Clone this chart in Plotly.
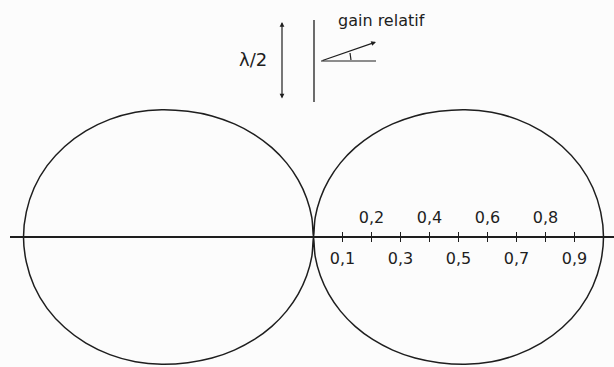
import numpy as np
import plotly.graph_objects as go

# relative gain of the half-wave dipole, read every 5 degrees from the dipole axis
ANGLE_DEG = [0, 5, 10, 15, 20, 25, 30, 35, 40, 45, 50, 55, 60, 65, 70, 75, 80, 85, 90]
GAIN = [0.0, 0.068, 0.136, 0.204, 0.272, 0.340, 0.408, 0.476, 0.545, 0.613,
        0.683, 0.750, 0.811, 0.866, 0.913, 0.951, 0.978, 0.994, 1.0]

TICK_VALUES = [0.1, 0.2, 0.3, 0.4, 0.5, 0.6, 0.7, 0.8, 0.9]
LABELS_BELOW = ['0,1', '', '0,3', '', '0,5', '', '0,7', '', '0,9']
LABELS_ABOVE = ['', '0,2', '', '0,4', '', '0,6', '', '0,8', '']

W, H = 614, 367
INK = '#1e1e1e'
FONT = 'DejaVu Sans, sans-serif'

# pattern is symmetric: mirror the quarter into the full figure-of-eight
half = np.array(ANGLE_DEG, dtype=float)
g = np.array(GAIN)
th_right = np.concatenate([half, 180 - half[::-1][1:]])
g_right = np.concatenate([g, g[::-1][1:]])
theta = np.radians(np.concatenate([th_right, 180 + th_right[1:]]))
gain = np.concatenate([g_right, g_right[1:]])

fig = go.Figure()
fig.add_trace(go.Scatter(
    x=gain * np.sin(theta),
    y=gain * np.cos(theta),
    mode='lines',
    line=dict(color=INK, width=1.5, shape='spline', smoothing=1),
    hoverinfo='skip',
    showlegend=False,
))
# empty trace so the upper tick axis gets drawn
fig.add_trace(go.Scatter(x=[], y=[], xaxis='x2', yaxis='y', showlegend=False, hoverinfo='skip'))

# 290 px per unit gain, origin at pixel (313.5, 237)
scale = 290.0
x_left_px = 10
x0 = -(313.5 - x_left_px) / scale
x1 = (W - 313.5) / scale
y0 = -(H - 237) / scale
y1 = 237 / scale
axis_pos = -y0 / (y1 - y0)


def px(x):
    return x / W


def py(y):
    return 1 - y / H


common = dict(
    range=[x0, x1],
    domain=[x_left_px / W, 1],
    anchor='free',
    position=axis_pos,
    showline=True,
    linecolor=INK,
    linewidth=2,
    showgrid=False,
    zeroline=False,
    ticks='outside',
    ticklen=4,
    tickwidth=1,
    tickcolor=INK,
    tickvals=TICK_VALUES,
    tickfont=dict(family=FONT, size=16, color=INK),
    ticklabelstandoff=3,
)

fig.update_layout(
    width=W,
    height=H,
    margin=dict(l=0, r=0, t=0, b=0),
    plot_bgcolor='#fcfcfc',
    paper_bgcolor='#fcfcfc',
    xaxis=dict(**common, side='bottom', ticktext=LABELS_BELOW),
    xaxis2=dict(**common, side='top', overlaying='x', ticktext=LABELS_ABOVE),
    yaxis=dict(range=[y0, y1], domain=[0, 1], visible=False),
)

# small sketch of the dipole and the angle
fig.add_shape(type='line', xref='paper', yref='paper',
              x0=px(314), y0=py(20), x1=px(314), y1=py(102),
              line=dict(color=INK, width=1.3))
fig.add_shape(type='line', xref='paper', yref='paper',
              x0=px(321), y0=py(61), x1=px(376), y1=py(61),
              line=dict(color=INK, width=1.2))
fig.add_shape(type='line', xref='paper', yref='paper',
              x0=px(350), y0=py(53), x1=px(351), y1=py(60),
              line=dict(color=INK, width=1.2))

fig.add_annotation(xref='paper', yref='paper', x=px(282), y=py(22),
                   ax=0, ay=78, text='', showarrow=True, arrowside='end+start',
                   arrowhead=2, arrowsize=0.8, arrowwidth=1.2, arrowcolor=INK)
fig.add_annotation(xref='paper', yref='paper', x=px(376), y=py(42),
                   ax=-55, ay=19, text='', showarrow=True,
                   arrowhead=2, arrowsize=0.8, arrowwidth=1.2, arrowcolor=INK)

fig.add_annotation(xref='paper', yref='paper', x=px(253), y=py(60),
                   xanchor='center', yanchor='middle',
                   text='λ/2', showarrow=False,
                   font=dict(family=FONT, size=18, color=INK))
fig.add_annotation(xref='paper', yref='paper', x=px(381), y=py(20),
                   xanchor='center', yanchor='middle',
                   text='gain relatif', showarrow=False,
                   font=dict(family=FONT, size=16, color=INK))

fig.write_html('out.html', config={'displayModeBar': False},
               post_script="document.body.style.margin='0';")
